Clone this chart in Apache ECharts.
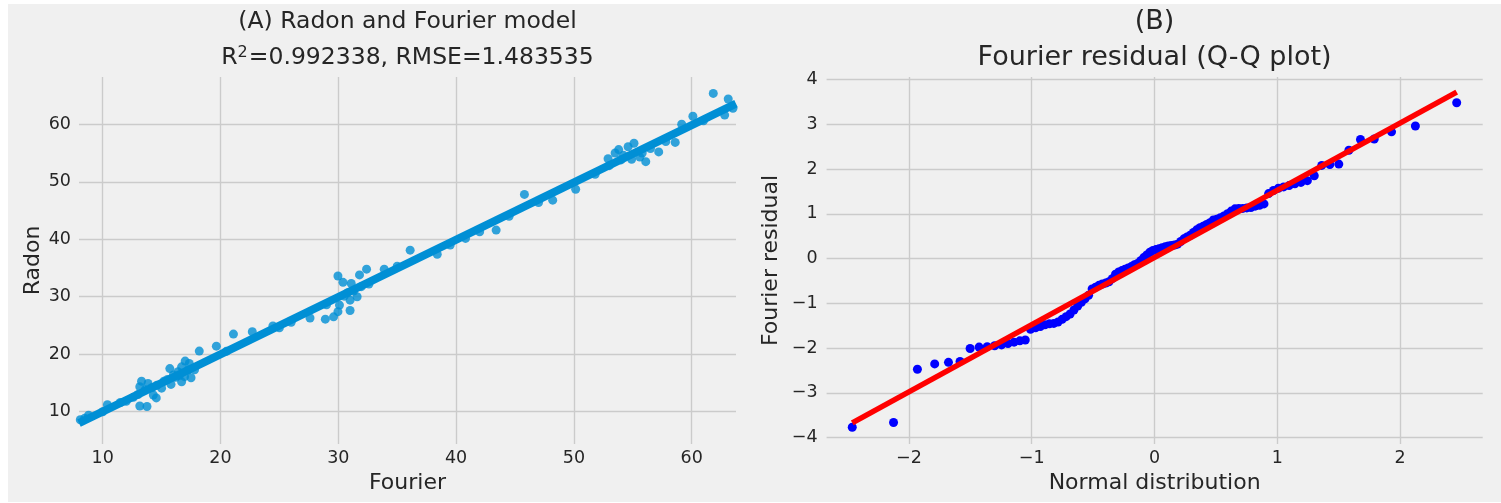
<!DOCTYPE html>
<html><head><meta charset="utf-8">
<script src="https://cdn.jsdelivr.net/npm/echarts@6/dist/echarts.min.js"></script>
<style>html,body{margin:0;padding:0;background:#ffffff;}#c{width:1501px;height:503px;}</style>
</head><body><div id="c"></div>
<script>
// ---- Data ----
const fourier = [8.1,8.47,8.8,10.4,11.5,12.6,13.15,13.76,13.3,13.15,13.85,13.6,13.0,14.3,14.55,15.0,14.2,14.6,15.8,16.7,
  15.5,16.0,16.95,17.5,16.4,17.25,15.7,16.7,17.0,17.35,16.2,17.8,18.2,19.65,21.1,22.7,24.45,26.0,27.6,28.9,
  29.6,29.97,31.0,30.1,31.0,31.6,31.95,31.1,30.4,29.97,31.8,32.4,33.9,30.5,31.3,32.6,30.8,36.1,38.4,40.8,
  43.4,45.8,48.2,50.15,51.8,52.9,53.8,54.6,55.1,54.9,55.6,56.1,57.2,58.6,59.15,60.1,61.0,61.83,62.8,63.1,
  63.5,35.0,39.5,42.0,47.0,53.0,54.2,55.8,56.5,25.0,20.5,12.0,10.0,15.2,16.5,53.5,54.0,57.8,29.0,44.5];
const radon = [8.6,8.85,9.4,11.2,11.6,12.5,11.0,10.9,15.3,14.35,14.9,13.8,13.0,12.9,12.4,14.1,14.2,14.6,14.75,15.2,
  15.6,16.4,16.1,15.9,16.95,17.25,17.5,17.8,18.8,18.4,16.0,17.3,20.55,21.4,23.5,23.9,24.9,25.55,26.3,26.1,
  26.5,27.4,27.6,28.55,29.4,30.0,31.75,32.3,32.5,33.6,33.8,34.8,34.8,30.1,31.0,32.2,30.7,38.1,37.4,40.15,
  41.6,47.8,46.8,48.7,51.3,54.0,55.6,56.1,56.7,53.9,54.3,53.5,55.2,56.85,60.0,61.4,60.6,65.37,61.6,64.4,
  62.8,35.3,39.0,41.3,46.4,52.8,54.6,55.0,55.8,24.6,20.5,11.8,10.0,15.3,16.3,55.0,53.8,57.0,28.6,44.0];
// sorted Fourier residuals (ordered values of the Q-Q plot)
const residuals = [-3.77,-3.665,-2.475,-2.355,-2.32,-2.30,-2.01,-1.98,-1.97,-1.95,
  -1.93,-1.90,-1.87,-1.84,-1.82,-1.58,-1.55,-1.52,-1.48,-1.46,
  -1.45,-1.42,-1.36,-1.30,-1.24,-1.15,-1.06,-0.98,-0.90,-0.82,
  -0.68,-0.64,-0.60,-0.57,-0.55,-0.52,-0.45,-0.35,-0.30,-0.27,
  -0.24,-0.21,-0.18,-0.14,-0.11,-0.05,0.02,0.08,0.14,0.18,
  0.20,0.22,0.24,0.26,0.28,0.29,0.30,0.32,0.38,0.44,
  0.48,0.52,0.58,0.64,0.69,0.72,0.76,0.80,0.86,0.88,
  0.91,0.95,1.00,1.06,1.11,1.12,1.12,1.13,1.14,1.17,
  1.19,1.22,1.45,1.52,1.57,1.60,1.63,1.67,1.70,1.74,
  1.85,2.08,2.10,2.11,2.42,2.66,2.67,2.83,2.96,3.48];
const leftXTicks = [10,20,30,40,50,60];
const leftYTicks = [10,20,30,40,50,60];
const qqXTicks = [-2,-1,0,1,2];
const qqYTicks = [-4,-3,-2,-1,0,1,2,3,4];
const titleA = '(A) Radon and Fourier model';
const statsA = {r2: '0.992338', rmse: '1.483535'};
const titleB1 = '(B)';
const titleB2 = 'Fourier residual (Q-Q plot)';

// ---- helpers ----
function normPpf(p){
  const a=[-3.969683028665376e+01,2.209460984245205e+02,-2.759285104469687e+02,1.383577518672690e+02,-3.066479806614716e+01,2.506628277459239e+00];
  const b=[-5.447609879822406e+01,1.615858368580409e+02,-1.556989798598866e+02,6.680131188771972e+01,-1.328068155288572e+01];
  const c=[-7.784894002430293e-03,-3.223964580411365e-01,-2.400758277161838e+00,-2.549732539343734e+00,4.374664141464968e+00,2.938163982698783e+00];
  const d=[7.784695709041462e-03,3.224671290700398e-01,2.445134137142996e+00,3.754408661907416e+00];
  const pl=0.02425, ph=1-pl; let q, r;
  if(p<pl){q=Math.sqrt(-2*Math.log(p));return (((((c[0]*q+c[1])*q+c[2])*q+c[3])*q+c[4])*q+c[5])/((((d[0]*q+d[1])*q+d[2])*q+d[3])*q+1);}
  if(p>ph){q=Math.sqrt(-2*Math.log(1-p));return -(((((c[0]*q+c[1])*q+c[2])*q+c[3])*q+c[4])*q+c[5])/((((d[0]*q+d[1])*q+d[2])*q+d[3])*q+1);}
  q=p-0.5; r=q*q;
  return (((((a[0]*r+a[1])*r+a[2])*r+a[3])*r+a[4])*r+a[5])*q/(((((b[0]*r+b[1])*r+b[2])*r+b[3])*r+b[4])*r+1);
}
function linfit(xs, ys){
  const n=xs.length; let mx=0,my=0; for(let i=0;i<n;i++){mx+=xs[i];my+=ys[i];} mx/=n; my/=n;
  let sxy=0,sxx=0; for(let i=0;i<n;i++){sxy+=(xs[i]-mx)*(ys[i]-my); sxx+=(xs[i]-mx)*(xs[i]-mx);}
  const slope=sxy/sxx; return {slope, intercept: my-slope*mx};
}
// theoretical quantiles (Filliben plotting positions, as scipy probplot)
const n = residuals.length;
const mLast = Math.pow(0.5, 1/n);
const theo = residuals.map((_, i) => {
  let m;
  if (i === 0) m = 1 - mLast; else if (i === n-1) m = mLast; else m = (i + 1 - 0.3175)/(n + 0.365);
  return normPpf(m);
});
const qqFit = linfit(theo, residuals);
const qqLine = [[theo[0], qqFit.intercept + qqFit.slope*theo[0]], [theo[n-1], qqFit.intercept + qqFit.slope*theo[n-1]]];

const leftXMin = 7.99, leftXMax = 63.76;
const regFit = linfit(fourier, radon);
const regLine = [[leftXMin, regFit.intercept + regFit.slope*leftXMin], [leftXMax, regFit.intercept + regFit.slope*leftXMax]];

const FONT = '"DejaVu Sans", "Liberation Sans", sans-serif';
const TXT = '#262626';
const GRID = '#cbcbcb';
const minus = v => String(v).replace('-', '\u2212');

function axisCommon(ticks){
  return {
    type: 'value',
    axisLine: {show: false},
    axisTick: {show: false, customValues: ticks},
    splitLine: {show: true, lineStyle: {color: GRID, width: 1.4}},
    nameTextStyle: {color: TXT, fontSize: 22, fontFamily: FONT}
  };
}

const chart = echarts.init(document.getElementById('c'), null, {renderer: 'canvas', width: 1501, height: 503});
const option = {
  backgroundColor: '#ffffff',
  animation: false,
  grid: [
    {left: 79, top: 77, width: 657, height: 367},
    {left: 826.6, top: 77, width: 656.1, height: 367}
  ],
  xAxis: [
    Object.assign(axisCommon(leftXTicks), {gridIndex: 0, min: leftXMin, max: leftXMax, name: 'Fourier', nameLocation: 'middle', nameGap: 28,
      axisLabel: {customValues: leftXTicks, color: TXT, fontSize: 17.5, fontFamily: FONT, margin: 5}}),
    Object.assign(axisCommon(qqXTicks), {gridIndex: 1, min: -2.671, max: 2.674, name: 'Normal distribution', nameLocation: 'middle', nameGap: 28,
      axisLabel: {customValues: qqXTicks, color: TXT, fontSize: 17.5, fontFamily: FONT, margin: 5, formatter: minus}})
  ],
  yAxis: [
    Object.assign(axisCommon(leftYTicks), {gridIndex: 0, min: 4.38, max: 68.23, name: 'Radon', nameLocation: 'middle', nameGap: 35,
      axisLabel: {customValues: leftYTicks, color: TXT, fontSize: 17.5, fontFamily: FONT, margin: 8}}),
    Object.assign(axisCommon(qqYTicks), {gridIndex: 1, min: -4.145, max: 4.056, name: 'Fourier residual', nameLocation: 'middle', nameGap: 44,
      axisLabel: {customValues: qqYTicks, color: TXT, fontSize: 17.5, fontFamily: FONT, margin: 9, formatter: minus}})
  ],
  graphic: [
    {type: 'rect', z: -100, silent: true, shape: {x: 8, y: 4, width: 1493, height: 498}, style: {fill: '#f0f0f0'}},
    {type: 'text', x: 407.5, y: 22, style: {text: titleA, fontSize: 23.5, fontFamily: FONT, fill: TXT, align: 'center', verticalAlign: 'middle'}},
    {type: 'text', x: 407.5, y: 58, style: {text: '{b|R}{s|2}{b|=' + statsA.r2 + ', RMSE=' + statsA.rmse + '}', align: 'center', verticalAlign: 'middle',
      rich: {b: {fontSize: 23.5, fontFamily: FONT, fill: TXT}, s: {fontSize: 16, fontFamily: FONT, fill: TXT, padding: [0, 1, 10, 0]}}}},
    {type: 'text', x: 1154.6, y: 22, style: {text: titleB1, fontSize: 27, fontFamily: FONT, fill: TXT, align: 'center', verticalAlign: 'middle'}},
    {type: 'text', x: 1154.6, y: 58, style: {text: titleB2, fontSize: 27, fontFamily: FONT, fill: TXT, align: 'center', verticalAlign: 'middle'}}
  ],
  series: [
    {type: 'scatter', xAxisIndex: 0, yAxisIndex: 0, z: 2, symbol: 'circle', symbolSize: 9,
      itemStyle: {color: '#008fd5', opacity: 0.8}, data: fourier.map((x, i) => [x, radon[i]])},
    {type: 'line', xAxisIndex: 0, yAxisIndex: 0, z: 3, showSymbol: false, symbol: 'none',
      lineStyle: {color: '#008fd5', width: 8, cap: 'butt'}, data: regLine},
    {type: 'scatter', xAxisIndex: 1, yAxisIndex: 1, z: 2, symbol: 'circle', symbolSize: 9,
      itemStyle: {color: '#0000ff', opacity: 1}, data: theo.map((q, i) => [q, residuals[i]])},
    {type: 'line', xAxisIndex: 1, yAxisIndex: 1, z: 3, showSymbol: false, symbol: 'none',
      lineStyle: {color: '#ff0000', width: 5.5, cap: 'butt'}, data: qqLine}
  ]
};
chart.setOption(option);
</script></body></html>
